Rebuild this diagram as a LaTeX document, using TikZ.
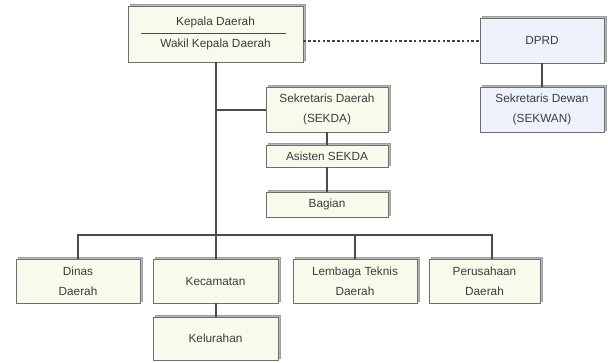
\documentclass[tikz,border=0pt]{standalone}
\usepackage{fontspec}
\setmainfont{Liberation Sans}
\usetikzlibrary{shadows}
\definecolor{cream}{RGB}{250,250,236}
\definecolor{paleblue}{RGB}{238,243,251}
\definecolor{edge}{RGB}{110,110,110}
\definecolor{wire}{RGB}{75,75,75}
\definecolor{ink}{RGB}{60,60,60}
\begin{document}
\begin{tikzpicture}[x=1pt,y=-1pt,
  box/.style={draw=edge, line width=0.9pt, fill=cream, inner sep=0pt,
    align=center, text=ink, font=\fontsize{11.8}{20}\selectfont,
    general shadow={shadow xshift=2.2pt, shadow yshift=2.2pt,
      fill=gray!55, draw=gray!75, line width=0.6pt}},
  bluebox/.style={box, fill=paleblue},
  wire/.style={draw=wire, line width=2pt},
  link/.style={draw=wire!90!black, line width=2pt, dash pattern=on 2.6pt off 2.2pt}]
\useasboundingbox (0,0) rectangle (608,362);

% head of the region and its council
\node[box, minimum width=175pt, minimum height=56pt] (kepala) at (215.5,34) {};
\node[text=ink, font=\fontsize{11.8}{13}\selectfont] (kepalaA) at (215.5,22.5) {Kepala Daerah};
\node[text=ink, font=\fontsize{11.8}{13}\selectfont] (kepalaB) at (215.5,44) {Wakil Kepala Daerah};
\draw[draw=wire, line width=0.9pt] ([xshift=13pt]kepala.west |- 0,33) coordinate (divL) -- ([xshift=-17pt]kepala.east |- 0,33) coordinate (divR);

\node[bluebox, minimum width=124pt, minimum height=45pt] (dprd) at (542,40.5) {DPRD};
\node[bluebox, minimum width=124pt, minimum height=45pt] (sekwan) at (542,109.5) {Sekretaris Dewan\\(SEKWAN)};

% secretariat column
\node[box, minimum width=122pt, minimum height=45pt] (sekda) at (327,109.5) {Sekretaris Daerah\\(SEKDA)};
\node[box, minimum width=122pt, minimum height=22pt] (asisten) at (327,156) {Asisten SEKDA};
\node[box, minimum width=122pt, minimum height=25pt] (bagian) at (327,204.5) {Bagian};

% lower row
\node[box, minimum width=124pt, minimum height=44pt] (dinas) at (78,281) {Dinas\\Daerah};
\node[box, minimum width=125pt, minimum height=44pt] (kecamatan) at (215.5,281) {Kecamatan};
\node[box, minimum width=124pt, minimum height=44pt] (lembaga) at (355,281) {Lembaga Teknis\\Daerah};
\node[box, minimum width=111pt, minimum height=44pt] (perusahaan) at (484.5,281) {Perusahaan\\Daerah};
\node[box, minimum width=125pt, minimum height=43pt] (kelurahan) at (215.5,338.5) {Kelurahan};

% connectors
\coordinate (bus) at (215.5,235);
\coordinate (pdrop) at ([xshift=7pt]perusahaan.north);
\draw[wire] (kepala.south) -- (kecamatan.north);
\draw[wire] (kepala.south |- sekda.west) -- (sekda.west);
\draw[wire] (sekda.south) -- (asisten.north);
\draw[wire] (asisten.south) -- (bagian.north);
\draw[wire] (dinas.north) -- (dinas.north |- bus) -- (pdrop |- bus) -- (pdrop);
\draw[wire] (lembaga.north |- bus) -- (lembaga.north);
\draw[wire] (kecamatan.south) -- (kelurahan.north);
\draw[wire] (dprd.south) -- (sekwan.north);
\draw[link] (kepala.east |- dprd.west) -- (dprd.west);
\end{tikzpicture}
\end{document}
